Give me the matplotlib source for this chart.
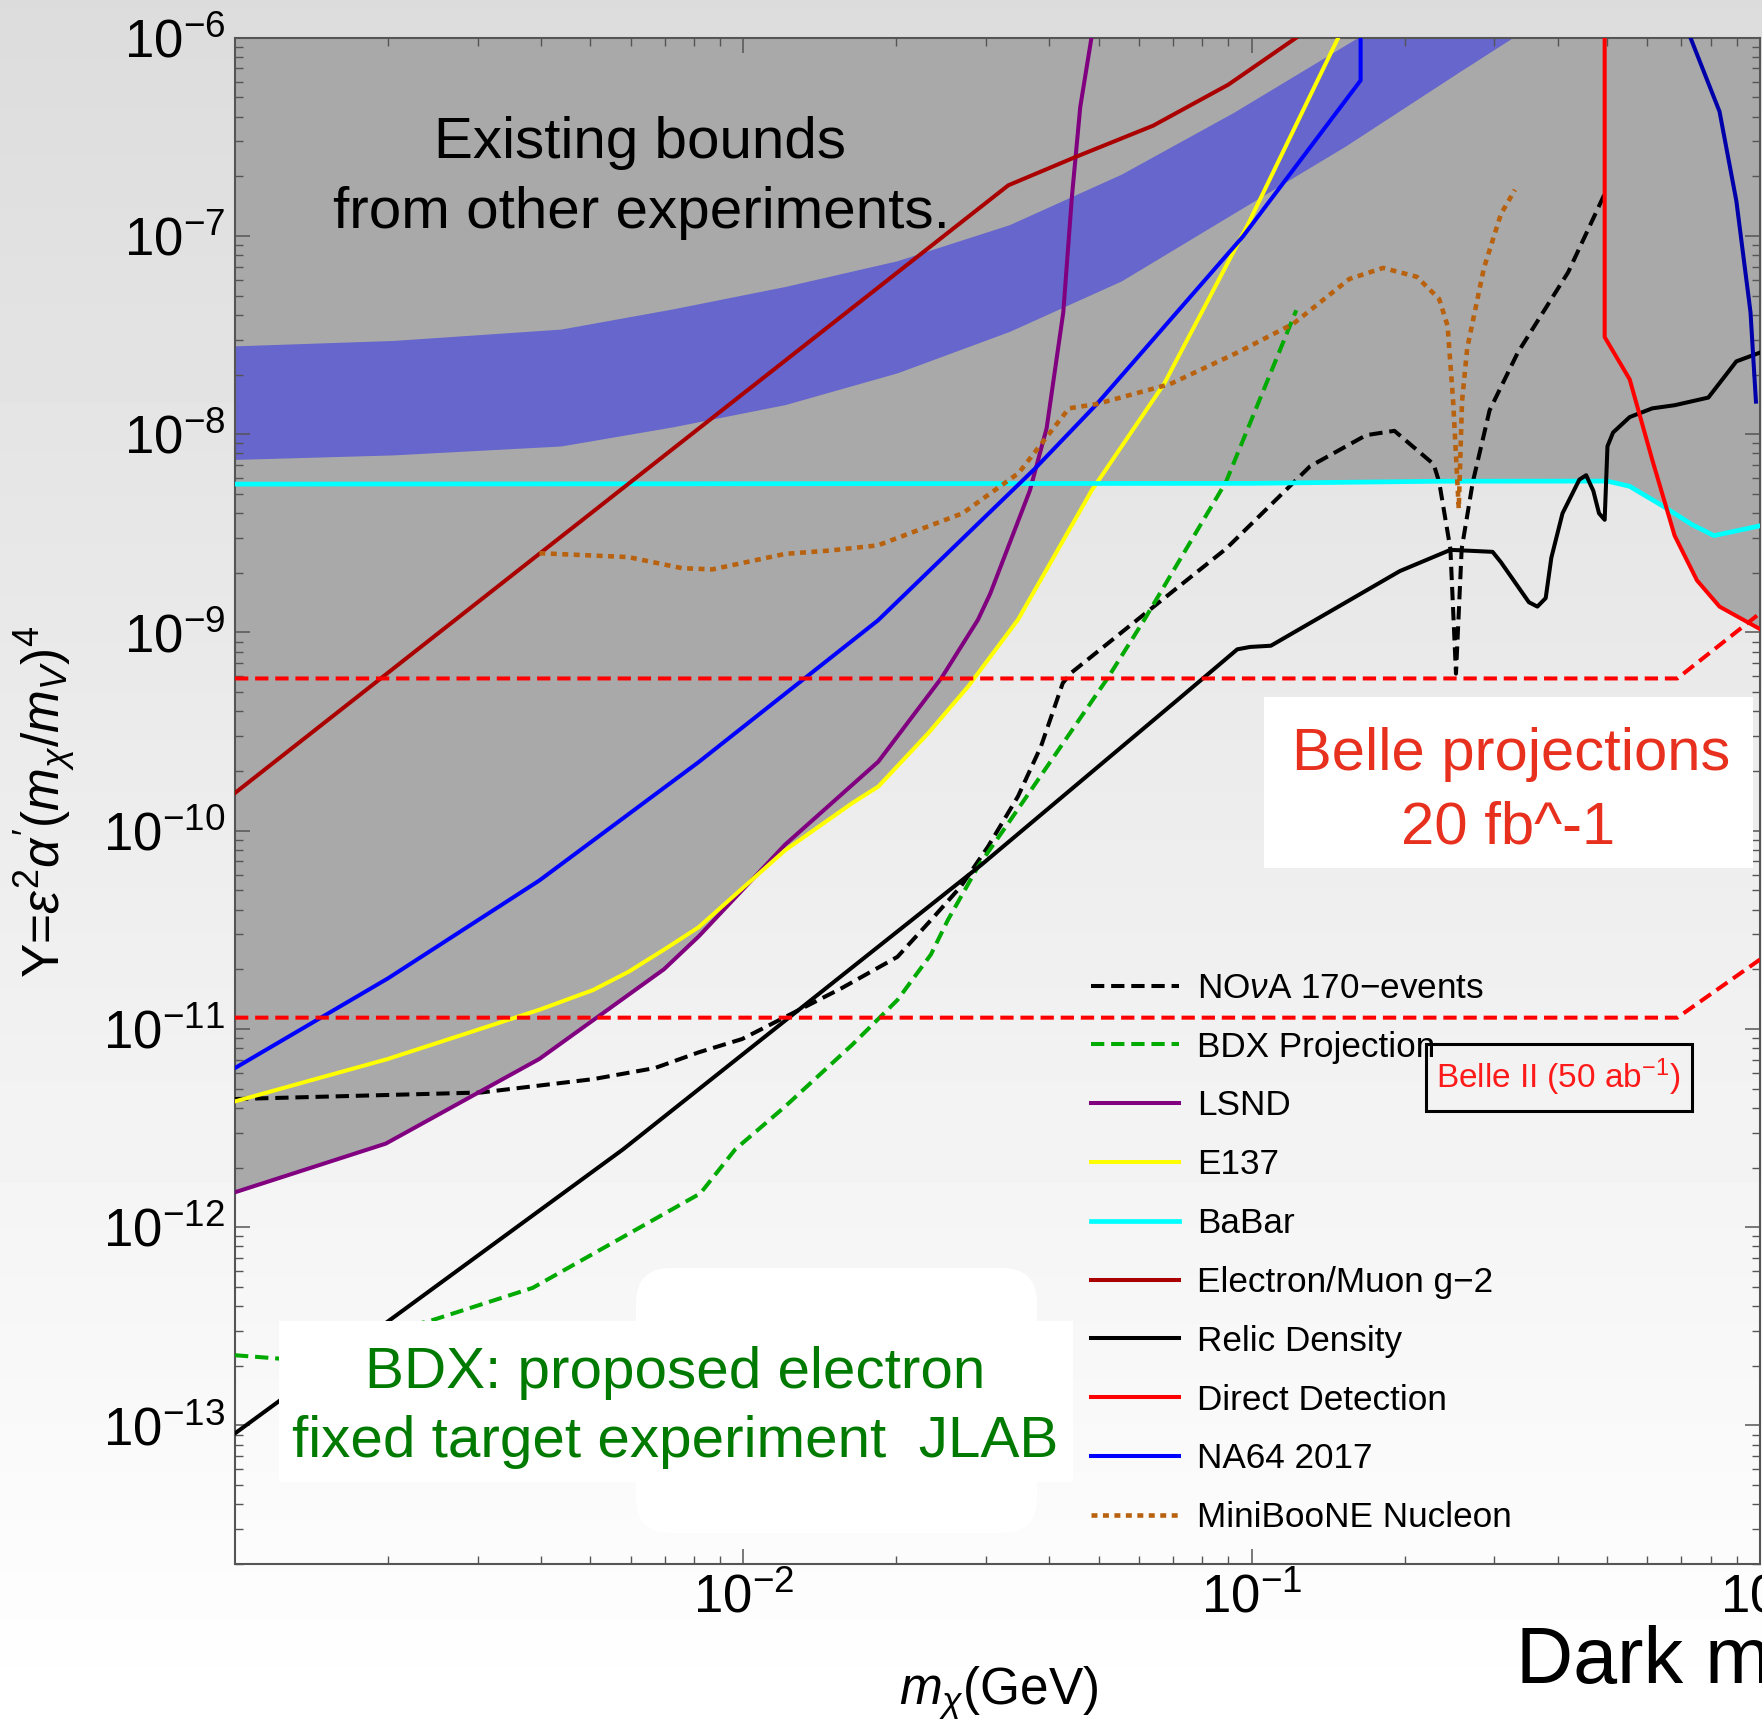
import numpy as np
import matplotlib
matplotlib.use("Agg")
import matplotlib.pyplot as plt
from matplotlib.patches import Rectangle, FancyBboxPatch
from matplotlib.ticker import LogLocator, LogFormatterSciNotation, NullFormatter, FixedLocator

plt.rcParams['font.family'] = ['Liberation Sans', 'DejaVu Sans']
plt.rcParams['mathtext.fontset'] = 'custom'
plt.rcParams['mathtext.rm'] = 'Liberation Sans'
plt.rcParams['mathtext.it'] = 'Liberation Sans:italic'
plt.rcParams['mathtext.bf'] = 'Liberation Sans:bold'

# ---- data: dark matter mass (GeV) vs Y ----
nova_m = [0.001, 0.00305, 0.00506, 0.0067, 0.00817, 0.00994, 0.01557, 0.0201, 0.02344, 0.0268,
          0.0303, 0.0347, 0.0385, 0.0425, 0.0441, 0.0596, 0.089, 0.1303, 0.168, 0.1909, 0.228,
          0.2338, 0.246, 0.2523, 0.2589, 0.2723, 0.2938, 0.3338, 0.4194, 0.4948]
nova_y = [4.43e-12, 4.78e-12, 5.58e-12, 6.35e-12, 7.62e-12, 8.89e-12, 1.60e-11, 2.31e-11, 3.56e-11, 5.24e-11,
          8.32e-11, 1.49e-10, 2.66e-10, 5.55e-10, 6.24e-10, 1.16e-9, 2.64e-9, 6.89e-9, 9.89e-9, 1.04e-8, 7.06e-9,
          5.74e-9, 2.64e-9, 6.2e-10, 2.64e-9, 5.74e-9, 1.32e-8, 2.58e-8, 6.56e-8, 1.63e-7]

bdx_m = [0.001, 0.00123, 0.00243, 0.00385, 0.0058, 0.00823, 0.00964, 0.01208, 0.01639, 0.0201,
         0.02338, 0.02528, 0.02895, 0.0336, 0.0521, 0.0615, 0.089, 0.1224]
bdx_y = [2.26e-13, 2.17e-13, 3.38e-13, 4.94e-13, 8.93e-13, 1.48e-12, 2.47e-12, 4.06e-12, 8.34e-12, 1.40e-11,
         2.37e-11, 3.56e-11, 6.59e-11, 1.14e-10, 5.89e-10, 1.16e-9, 5.74e-9, 4.22e-8]

lsnd_m = [0.001, 0.00198, 0.00397, 0.00698, 0.00817, 0.01208, 0.01843, 0.02453, 0.02895, 0.0306,
          0.0366, 0.0395, 0.0426, 0.0443, 0.046, 0.0484]
lsnd_y = [1.50e-12, 2.64e-12, 7.06e-12, 2.0e-11, 2.93e-11, 8.5e-11, 2.23e-10, 5.89e-10, 1.16e-9, 1.57e-9,
          5.18e-9, 1.07e-8, 4.12e-8, 1.58e-7, 4.47e-7, 1.0e-6]

e137_m = [0.001, 0.002, 0.00397, 0.00506, 0.00594, 0.00698, 0.00817, 0.01208, 0.01639, 0.01843,
          0.0231, 0.02767, 0.0347, 0.0484, 0.0673, 0.0986, 0.148]
e137_y = [4.31e-12, 7.06e-12, 1.25e-11, 1.57e-11, 1.94e-11, 2.51e-11, 3.26e-11, 7.96e-11, 1.38e-10, 1.67e-10,
          3.10e-10, 5.33e-10, 1.16e-9, 5.18e-9, 1.80e-8, 1.16e-7, 1.0e-6]

babar_m = [0.001, 0.1, 0.2338, 0.5006, 0.5542, 0.646, 0.7336, 0.812, 1.0]
babar_y = [5.6e-9, 5.65e-9, 5.79e-9, 5.8e-9, 5.46e-9, 4.32e-9, 3.51e-9, 3.08e-9, 3.45e-9]

g2_m = [0.001, 0.0332, 0.045, 0.064, 0.09, 0.1224]
g2_y = [1.55e-10, 1.80e-7, 2.5e-7, 3.6e-7, 5.8e-7, 1.0e-6]

relic_m = [0.001, 0.0058, 0.0294, 0.0715, 0.0937, 0.0993, 0.1091, 0.1957, 0.2461, 0.2978, 0.3093,
           0.3511, 0.3648, 0.3788, 0.3886, 0.4088, 0.4412, 0.455, 0.47, 0.4823, 0.4948, 0.5011,
           0.514, 0.5542, 0.6138, 0.6792, 0.7913, 0.8985, 1.0]
relic_y = [9.12e-14, 2.47e-12, 6.73e-11, 4.57e-10, 8.22e-10, 8.45e-10, 8.57e-10, 2.04e-9, 2.61e-9, 2.55e-9, 2.26e-9,
           1.42e-9, 1.35e-9, 1.49e-9, 2.38e-9, 3.99e-9, 5.90e-9, 6.21e-9, 5.18e-9, 3.99e-9, 3.70e-9, 8.69e-9,
           1.02e-8, 1.22e-8, 1.35e-8, 1.40e-8, 1.53e-8, 2.33e-8, 2.58e-8]

dd_m = [0.4948, 0.4948, 0.5542, 0.6138, 0.6792, 0.7517, 0.8325, 1.0]
dd_y = [1.2e-6, 3.09e-8, 1.89e-8, 7.43e-9, 3.08e-9, 1.83e-9, 1.35e-9, 1.04e-9]

na64_m = [0.001, 0.002, 0.00397, 0.00817, 0.0184, 0.0375, 0.0496, 0.0961, 0.1638, 0.1638]
na64_y = [6.35e-12, 1.80e-11, 5.61e-11, 2.22e-10, 1.15e-9, 6.72e-9, 1.42e-8, 9.93e-8, 6.09e-7, 1.2e-6]

miniboone_m = [0.00397, 0.00594, 0.00757, 0.00869, 0.01208, 0.01481, 0.0184, 0.027, 0.0348, 0.0437,
               0.0496, 0.0691, 0.0937, 0.1208, 0.1557, 0.1814, 0.2113, 0.2338, 0.2429, 0.2491, 0.2555,
               0.2593, 0.2655, 0.2864, 0.3093, 0.3296]
miniboone_y = [2.51e-9, 2.40e-9, 2.11e-9, 2.08e-9, 2.49e-9, 2.59e-9, 2.75e-9, 3.99e-9, 6.37e-9, 1.35e-8,
               1.42e-8, 1.79e-8, 2.58e-8, 3.61e-8, 6.07e-8, 6.90e-8, 6.22e-8, 4.81e-8, 3.52e-8, 1.46e-8, 4.21e-9,
               1.46e-8, 2.72e-8, 6.90e-8, 1.29e-7, 1.71e-7]

# unlabelled navy curve at the right edge
navy_m = [0.7298, 0.8325, 0.8985, 0.9579, 0.9818]
navy_y = [1.0e-6, 4.24e-7, 1.50e-7, 4.12e-8, 1.46e-8]

# Belle projections (dashed red)
belle50_m = [0.001, 0.6876, 1.0]
belle50_y = [1.14e-11, 1.14e-11, 2.24e-11]
belle20_m = [0.001, 0.6876, 1.0]
belle20_y = [5.86e-10, 5.86e-10, 1.25e-9]

# g-2 favoured band
band_m = [0.001, 0.002044, 0.004377, 0.007275, 0.01208, 0.02008, 0.03337, 0.0554, 0.0921, 0.1529, 0.2541, 0.326]
band_hi = [2.79e-8, 2.97e-8, 3.39e-8, 4.29e-8, 5.56e-8, 7.50e-8, 1.14e-7, 2.05e-7, 4.20e-7, 9.19e-7, 2.01e-6, 3.17e-6]
band_lo = [7.46e-9, 7.86e-9, 8.72e-9, 1.09e-8, 1.41e-8, 2.04e-8, 3.30e-8, 5.93e-8, 1.30e-7, 2.84e-7, 6.64e-7, 1.0e-6]

# tick positions
x_major = [1e-2, 1e-1, 1.0]
y_major = [1e-13, 1e-12, 1e-11, 1e-10, 1e-9, 1e-8, 1e-7, 1e-6]

legend_order = ['NO$\\nu$A 170\u2212events', 'BDX Projection', 'LSND', 'E137', 'BaBar',
                'Electron/Muon g\u22122', 'Relic Density', 'Direct Detection', 'NA64 2017',
                'MiniBooNE Nucleon']

W, H = 1762, 1721


# Convert a pixel position to figure fraction
def fp(x, y):
    return x / W, 1 - y / H


fig = plt.figure(figsize=(W / 100, H / 100), dpi=100)

# Background gradient (light grey at top to white at bottom)
bg = fig.add_axes([0, 0, 1, 1], zorder=-10)
grad = np.linspace(220, 255, 256)[:, None] / 255.0
bg.imshow(grad, cmap='gray', vmin=0, vmax=1, aspect='auto', extent=[0, 1, 0, 1])
bg.axis('off')

x0, y0 = fp(235, 1564)
x1, y1 = fp(1760, 37.7)
ax = fig.add_axes([x0, y0, x1 - x0, y1 - y0])
ax.patch.set_alpha(0)
ax.set_xscale('log')
ax.set_yscale('log')
ax.set_xlim(1e-3, 1.0)
ax.set_ylim(2.0e-14, 1e-6)

# Excluded region (grey)
grey = '#a9a9a9'
for mm, yy in [(lsnd_m, lsnd_y), (e137_m, e137_y), (babar_m, babar_y), (dd_m, dd_y)]:
    ax.fill_between(mm, yy, 2e-6, color=grey, lw=0, zorder=1)

# Blue band
ax.fill_between(band_m, band_lo, band_hi, color='#6666cc', lw=0, zorder=1.5)

lw = 2.9
dash = (3.3, 1.7)
h = {}
h['nova'], = ax.plot(nova_m, nova_y, color='black', lw=lw, dashes=dash, zorder=3)
h['bdx'], = ax.plot(bdx_m, bdx_y, color='#00aa00', lw=lw, dashes=dash, zorder=3)
h['lsnd'], = ax.plot(lsnd_m, lsnd_y, color='#800080', lw=lw, zorder=3)
h['e137'], = ax.plot(e137_m, e137_y, color='#ffff00', lw=lw, zorder=3)
h['babar'], = ax.plot(babar_m, babar_y, color='#00ffff', lw=3.4, zorder=3)
h['g2'], = ax.plot(g2_m, g2_y, color='#aa0000', lw=lw, zorder=3)
h['relic'], = ax.plot(relic_m, relic_y, color='black', lw=lw, zorder=3)
h['dd'], = ax.plot(dd_m, dd_y, color='#ff0000', lw=lw, zorder=3)
h['na64'], = ax.plot(na64_m, na64_y, color='#0000ff', lw=lw, zorder=3)
h['mb'], = ax.plot(miniboone_m, miniboone_y, color='#b8620f', lw=3.3, dashes=(1.3, 1.2), zorder=3)
ax.plot(navy_m, navy_y, color='#0000aa', lw=lw, zorder=3)
ax.plot(belle50_m, belle50_y, color='#ff0000', lw=lw, dashes=dash, zorder=3)
ax.plot(belle20_m, belle20_y, color='#ff0000', lw=lw, dashes=dash, zorder=3)

# Axes styling
for s in ax.spines.values():
    s.set_color('#555555')
    s.set_linewidth(1.5)
ax.xaxis.set_major_locator(FixedLocator(x_major))
ax.xaxis.set_major_formatter(LogFormatterSciNotation())
ax.xaxis.set_minor_locator(LogLocator(base=10, subs=np.arange(2, 10), numticks=20))
ax.xaxis.set_minor_formatter(NullFormatter())
ax.yaxis.set_major_locator(FixedLocator(y_major))
ax.yaxis.set_major_formatter(LogFormatterSciNotation())
ax.yaxis.set_minor_locator(LogLocator(base=10, subs=np.arange(2, 10), numticks=20))
ax.yaxis.set_minor_formatter(NullFormatter())
ax.tick_params(which='both', direction='in', top=True, right=True, color='#555555')
ax.tick_params(which='major', length=11, width=1.1, labelsize=38)
ax.tick_params(which='minor', length=6, width=1.0)
ax.tick_params(axis='y', pad=7)
ax.tick_params(axis='x', pad=7)

ax.set_ylabel(r"Y=$\varepsilon^2\alpha'(m_\chi/m_V)^4$", fontsize=37)
ax.yaxis.set_label_coords(-0.1036, 0.4996)
ax.set_xlabel(r"$m_\chi$(GeV)", fontsize=37)
ax.xaxis.set_label_coords(0.501, -0.0655)

# Legend
handles = [h['nova'], h['bdx'], h['lsnd'], h['e137'], h['babar'], h['g2'], h['relic'],
           h['dd'], h['na64'], h['mb']]
leg = ax.legend(handles, legend_order, loc='upper left', bbox_to_anchor=fp(1090.9, 971.8),
                bbox_transform=fig.transFigure, frameon=False, borderpad=0, borderaxespad=0,
                fontsize=25.3, handlelength=2.51, handletextpad=0.52, labelspacing=0.735)
leg.set_zorder(6)

# Annotation texts
ax.text(*fp(640, 158), "Existing bounds", transform=fig.transFigure, fontsize=42,
        ha='center', va='baseline', zorder=5)
ax.text(*fp(641, 228), "from other experiments.", transform=fig.transFigure, fontsize=42,
        ha='center', va='baseline', zorder=5)

# BDX white boxes
bx0, by0 = fp(279, 1481.7)
bx1, by1 = fp(1073, 1321)
ax.add_patch(Rectangle((bx0, by0), bx1 - bx0, by1 - by0, transform=fig.transFigure,
                       facecolor='white', edgecolor='none', zorder=4, clip_on=False))
ax.add_patch(FancyBboxPatch((636, H - 1533), 401, 265,
                            boxstyle="round,pad=0,rounding_size=35",
                            transform=None, facecolor='white', edgecolor='none', zorder=4,
                            clip_on=False))
bdx_green = '#007a00'
ax.text(*fp(675, 1388), "BDX: proposed electron", transform=fig.transFigure, fontsize=42,
        color=bdx_green, ha='center', va='baseline', zorder=5)
ax.text(*fp(675, 1457), "fixed target experiment  JLAB", transform=fig.transFigure, fontsize=42,
        color=bdx_green, ha='center', va='baseline', zorder=5)

# Belle projections box
px0, py0 = fp(1264, 867.5)
px1, py1 = fp(1753, 697)
ax.add_patch(Rectangle((px0, py0), px1 - px0, py1 - py0, transform=fig.transFigure,
                       facecolor='white', edgecolor='none', zorder=4, clip_on=False))
belle_red = '#e8301f'
ax.text(*fp(1511, 770), "Belle projections", transform=fig.transFigure, fontsize=43,
        color=belle_red, ha='center', va='baseline', zorder=5)
ax.text(*fp(1508, 843), "20 fb^-1", transform=fig.transFigure, fontsize=43,
        color=belle_red, ha='center', va='baseline', zorder=5)

# Belle II box
qx0, qy0 = fp(1426, 1110.7)
qx1, qy1 = fp(1691.7, 1043.8)
ax.add_patch(Rectangle((qx0, qy0), qx1 - qx0, qy1 - qy0, transform=fig.transFigure,
                       facecolor='none', edgecolor='black', lw=2.2, zorder=7, clip_on=False))
ax.text(*fp(1558, 1077), r"Belle II (50 ab$^{-1}$)", transform=fig.transFigure, fontsize=24,
        color='#ff1a1a', ha='center', va='center', zorder=7)

# Cut-off caption at bottom right
fig.text(*fp(1515.6, 1683), "Dark matter", fontsize=57, ha='left', va='baseline')

fig.savefig("out.png", dpi=100)
